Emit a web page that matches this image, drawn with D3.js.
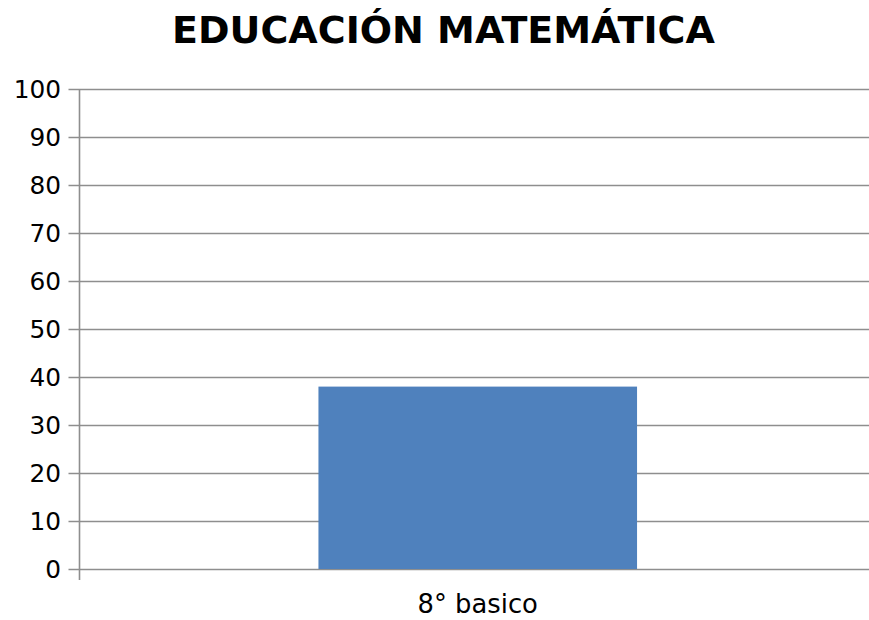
<!DOCTYPE html>
<html>
<head>
<meta charset="utf-8">
<script src="https://cdn.jsdelivr.net/npm/d3@7"></script>
<style>
  body{margin:0;background:#fff;}
  svg{display:block;font-family:"DejaVu Sans",sans-serif;}
</style>
</head>
<body>
<div id="chart"></div>
<script>
const categories = ["8° basico"];
const values = [38];
const yTicks = [0,10,20,30,40,50,60,70,80,90,100];
const title = "EDUCACIÓN MATEMÁTICA";

const w = 869, h = 620;
const m = {left:79.5, right:-7, top:89, bottom:51};

const svg = d3.select("#chart").append("svg")
  .attr("width",w).attr("height",h);

const x = d3.scaleBand()
  .domain(categories)
  .range([m.left, w-m.right])
  .paddingInner(0.6).paddingOuter(0.3);

const y = d3.scaleLinear()
  .domain([0,100])
  .range([h-m.bottom, m.top]);

// gridlines
svg.append("g")
  .selectAll("line")
  .data(yTicks)
  .enter().append("line")
  .attr("x1",m.left-11).attr("x2",w)
  .attr("y1",d=>Math.round(y(d))+0.5).attr("y2",d=>Math.round(y(d))+0.5)
  .attr("stroke","#8e8e8e").attr("stroke-width",1.6);

// bars
svg.append("g")
  .selectAll("rect")
  .data(values)
  .enter().append("rect")
  .attr("x",(d,i)=>x(categories[i]))
  .attr("width",x.bandwidth())
  .attr("y",d=>y(d))
  .attr("height",d=>y(0)-y(d))
  .attr("fill","#4f81bd");

// y axis line
svg.append("line")
  .attr("x1",m.left).attr("x2",m.left)
  .attr("y1",m.top).attr("y2",y(0)+11)
  .attr("stroke","#8e8e8e").attr("stroke-width",1.6);

svg.append("g")
  .selectAll("text")
  .data(yTicks)
  .enter().append("text")
  .attr("x",61).attr("y",d=>y(d))
  .attr("dy","0.36em")
  .attr("text-anchor","end")
  .attr("font-size",24.8)
  .text(d=>d);

svg.append("g")
  .selectAll("text")
  .data(categories)
  .enter().append("text")
  .attr("x",d=>x(d)+x.bandwidth()/2)
  .attr("y",613)
  .attr("text-anchor","middle")
  .attr("font-size",25.8)
  .text(d=>d);

svg.append("text")
  .attr("x",443.5).attr("y",43)
  .attr("text-anchor","middle")
  .attr("font-size",38)
  .attr("font-weight","bold")
  .text(title);
</script>
</body>
</html>
